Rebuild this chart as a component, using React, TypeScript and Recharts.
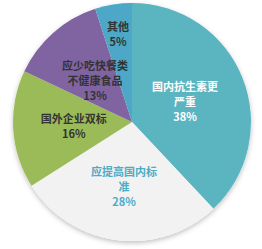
import { Cell, Pie, PieChart } from 'recharts';

const names = ['国内抗生素更严重', '应提高国内标准', '国外企业双标', '应少吃快餐类不健康食品', '其他'];
const labelLines = [['国内抗生素更', '严重'], ['应提高国内标', '准'], ['国外企业双标'], ['应少吃快餐类', '不健康食品'], ['其他']];
const values = [38, 28, 16, 13, 5];

const colors = ['#5BB5C1', '#F2F2F2', '#9BBB59', '#8064A2', '#4CA8C6'];
const textColors = ['#FFFFFF', '#4BACC6', '#333333', '#333333', '#333333'];
const labelRadius = [0.48, 0.54, 0.49, 0.47, 0.75];

const data = names.map((name, i) => ({ name, value: values[i] }));
const RAD = Math.PI / 180;

function renderLabel(props: any) {
  const { cx, cy, midAngle, outerRadius, index, value } = props;
  const r = outerRadius * labelRadius[index];
  const x = cx + r * Math.cos(-midAngle * RAD);
  const y = cy + r * Math.sin(-midAngle * RAD);
  const lines = [...labelLines[index], `${value}%`];
  const lh = 15;
  const y0 = y - ((lines.length - 1) * lh) / 2;
  return (
    <text
      x={x}
      y={y0}
      textAnchor="middle"
      dominantBaseline="central"
      fill={textColors[index]}
      style={{ fontSize: 11, fontWeight: 700, fontFamily: '"Noto Sans CJK SC", sans-serif' }}
    >
      {lines.map((l, i) => (
        <tspan key={i} x={x} dy={i === 0 ? 0 : lh}>{l}</tspan>
      ))}
    </text>
  );
}

export default function App() {
  return (
    <div style={{ position: 'fixed', left: 0, top: 0, background: '#fff' }}>
      <PieChart width={262} height={249} margin={{ top: 0, right: 0, bottom: 0, left: 0 }}>
        <defs>
          <filter id="pieShadow" x="-20%" y="-20%" width="140%" height="140%">
            <feDropShadow dx="0" dy="2" stdDeviation="2.5" floodColor="#000" floodOpacity="0.25" />
          </filter>
        </defs>
        <Pie
          data={[{ name: 'bg', value: 1 }]}
          dataKey="value"
          cx={132}
          cy={122}
          outerRadius={119}
          fill="#F2F2F2"
          stroke="none"
          style={{ filter: 'url(#pieShadow)' }}
          isAnimationActive={false}
        />
        <Pie
          data={data}
          dataKey="value"
          cx={132}
          cy={122}
          outerRadius={119}
          startAngle={90}
          endAngle={-270}
          stroke="none"
          label={renderLabel}
          labelLine={false}
          isAnimationActive={false}
        >
          {data.map((d, i) => (
            <Cell key={d.name} fill={colors[i]} />
          ))}
        </Pie>
      </PieChart>
    </div>
  );
}
